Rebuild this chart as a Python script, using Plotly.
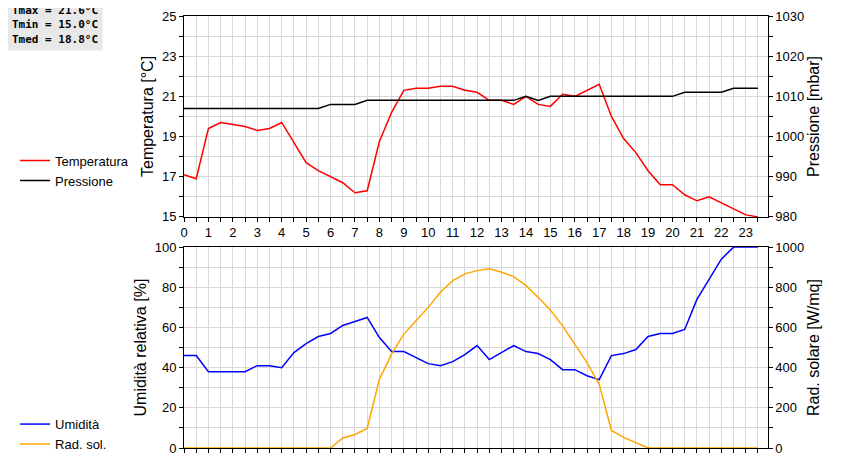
import plotly.graph_objects as go
from plotly.subplots import make_subplots

hours = [h * 0.5 for h in range(48)]

temperatura = [17.1, 16.9, 19.4, 19.7, 19.6, 19.5, 19.3, 19.4, 19.7, 18.7, 17.7, 17.3,
               17.0, 16.7, 16.2, 16.3, 18.75, 20.2, 21.3, 21.4, 21.4, 21.5, 21.5, 21.3,
               21.2, 20.8, 20.8, 20.6, 21.0, 20.6, 20.5, 21.1, 21.0, 21.3, 21.6, 20.0,
               18.9, 18.2, 17.3, 16.6, 16.6, 16.1, 15.8, 16.0, 15.7, 15.4, 15.1, 15.0]
pressione = [1007] * 12 + [1008] * 3 + [1009] * 13 + [1010, 1009] + [1010] * 11 + [1011] * 4 + [1012] * 3
umidita = [46, 46, 38, 38, 38, 38, 41, 41, 40, 47.5, 52, 55.5, 57, 61, 63, 65, 55, 48,
           48, 45, 42, 41, 43, 46.5, 51, 44, 47.5, 51, 48, 47, 44, 39, 39, 36, 34, 46,
           47, 49, 55.5, 57, 57, 59, 74, 84, 94, 100, 100, 100]
rad_sol = [0] * 13 + [50, 67, 97, 342, 467, 567, 633, 700, 775, 833, 867, 883, 892,
           875, 853, 808, 750, 687, 608, 517, 425, 317, 87, 53, 25] + [0] * 10

fig = make_subplots(rows=2, cols=1, vertical_spacing=0.07,
                    specs=[[{"secondary_y": True}], [{"secondary_y": True}]])

fig.add_trace(go.Scatter(x=hours, y=temperatura, name="Temperatura", mode="lines",
                         line=dict(color="red", width=1.5), legend="legend"),
              row=1, col=1, secondary_y=False)
fig.add_trace(go.Scatter(x=hours, y=pressione, name="Pressione", mode="lines",
                         line=dict(color="black", width=1.5), legend="legend"),
              row=1, col=1, secondary_y=True)
fig.add_trace(go.Scatter(x=hours, y=umidita, name="Umidità", mode="lines",
                         line=dict(color="blue", width=1.5), legend="legend2"),
              row=2, col=1, secondary_y=False)
fig.add_trace(go.Scatter(x=hours, y=rad_sol, name="Rad. sol.", mode="lines",
                         line=dict(color="orange", width=1.5), legend="legend2"),
              row=2, col=1, secondary_y=True)

axis_common = dict(showline=True, linecolor="black", linewidth=1, automargin=False,
                   ticks="outside", ticklen=4, tickcolor="black", zeroline=False)

fig.update_xaxes(range=[0, 23.9], tickvals=list(range(24)), showgrid=True, mirror=True,
                 gridcolor="#d8d8d8", minor=dict(dtick=0.5, tick0=0, showgrid=True, gridcolor="#d8d8d8",
                                                 ticks="outside", ticklen=4, tickcolor="black"),
                 **axis_common)

fig.update_yaxes(range=[15, 25], tickvals=[15, 17, 19, 21, 23, 25], showgrid=True, gridcolor="#d8d8d8",
                 minor=dict(dtick=1, showgrid=True, gridcolor="#d8d8d8", ticks="outside", ticklen=4, tickcolor="black"),
                 title_text="Temperatura [°C]", **axis_common, row=1, col=1, secondary_y=False)
fig.update_yaxes(range=[980, 1030], dtick=10, showgrid=False,
                 minor=dict(dtick=5, ticks="outside", ticklen=4, tickcolor="black"),
                 title_text="Pressione [mbar]", **axis_common, row=1, col=1, secondary_y=True)
fig.update_yaxes(range=[0, 100], dtick=20, showgrid=True, gridcolor="#d8d8d8",
                 minor=dict(dtick=10, showgrid=True, gridcolor="#d8d8d8", ticks="outside", ticklen=4, tickcolor="black"),
                 title_text="Umidità relativa [%]", **axis_common, row=2, col=1, secondary_y=False)
fig.update_yaxes(range=[0, 1000], dtick=200, showgrid=False,
                 minor=dict(dtick=100, ticks="outside", ticklen=4, tickcolor="black"),
                 title_text="Rad. solare [W/mq]", **axis_common, row=2, col=1, secondary_y=True)

fig.update_layout(
    width=860, height=460,
    margin=dict(l=175, r=63, t=8, b=20),
    plot_bgcolor="white", paper_bgcolor="white",
    font=dict(family="Liberation Sans, Arial", size=13, color="black"),
    legend=dict(x=-0.27, y=0.70, xanchor="left", yanchor="top", bgcolor="rgba(0,0,0,0)",
                font=dict(size=13), tracegroupgap=0, itemwidth=30),
    legend2=dict(x=-0.27, y=0.09, xanchor="left", yanchor="top", bgcolor="rgba(0,0,0,0)",
                 font=dict(size=13), tracegroupgap=0, itemwidth=30),
    annotations=[dict(
        text="<b>Tmax = 21.6°C<br>Tmin = 15.0°C<br>Tmed = 18.8°C</b>",
        xref="paper", yref="paper", x=-0.285, y=1.04, xanchor="left", yanchor="top",
        showarrow=False, align="left", bgcolor="#e8e8e8", borderpad=4,
        font=dict(family="DejaVu Sans Mono", size=11, color="black"))],
)
fig.update_yaxes(title_standoff=4)

fig.write_html("out.html")
